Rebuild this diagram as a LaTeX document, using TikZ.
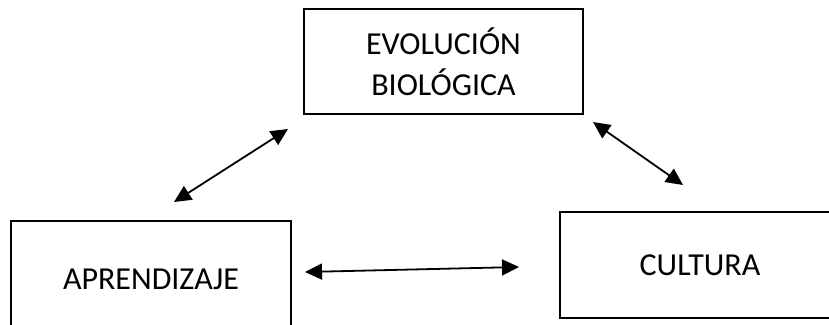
\documentclass[tikz,border=0pt]{standalone}
\usepackage{fontspec}
\setmainfont{Carlito}
\usetikzlibrary{arrows.meta}
\tikzset{
  box/.style={draw=black, line width=1.6pt, rectangle, inner sep=0pt, align=center,
    font=\fontsize{32}{41}\selectfont},
  arr/.style={line width=1.8pt, {Triangle[length=17pt,width=16pt]}-{Triangle[length=17pt,width=16pt]}}
}
\begin{document}
\begin{tikzpicture}[x=1pt,y=-1pt]
\useasboundingbox (0,0) rectangle (829,324);
\clip (0,0) rectangle (829,324);
\fill[white] (0,0) rectangle (829,324);
\node[box, minimum width=279pt, minimum height=105pt] (evo) at (443.5,61.5) {EVOLUCIÓN\\BIOLÓGICA};
\node[box, minimum width=280pt, minimum height=116pt] (apr) at (151,279) {APRENDIZAJE};
\node[box, minimum width=280pt, minimum height=106pt] (cul) at (700,265) {CULTURA};
\coordinate (a1) at (288,129);
\coordinate (a2) at (174,202);
\coordinate (b1) at (593,122);
\coordinate (b2) at (683,185);
\coordinate (c1) at (305,272);
\coordinate (c2) at (519,267);
\draw[arr] (a1) -- (a2);
\draw[arr] (b1) -- (b2);
\draw[arr] (c1) -- (c2);
\end{tikzpicture}
\end{document}
